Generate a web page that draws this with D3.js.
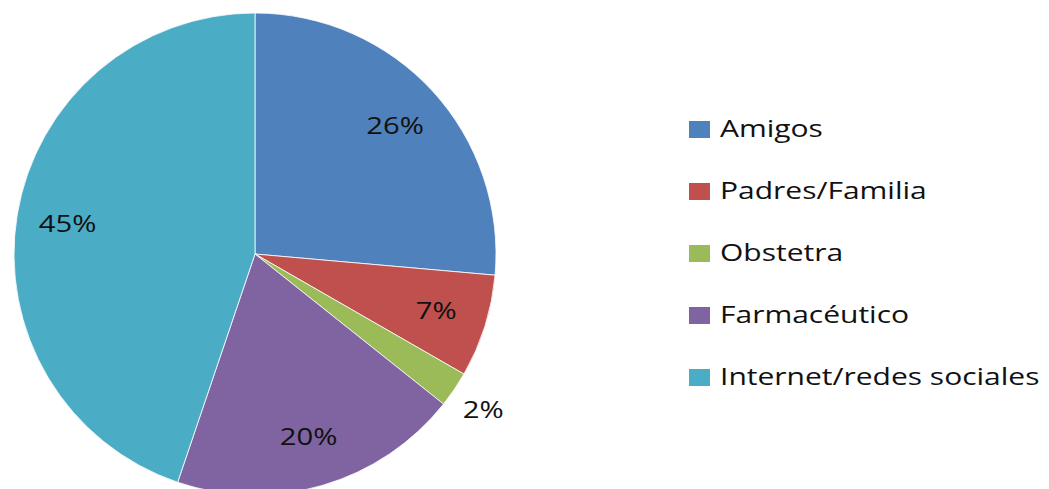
<!DOCTYPE html>
<html>
<head>
<meta charset="utf-8">
<script src="https://cdn.jsdelivr.net/npm/d3@7"></script>
<style>
  body { margin: 0; background: #fff; }
  svg { display: block; }
  text { font-family: "Open Sans", sans-serif; fill: #111; }
</style>
</head>
<body>
<svg width="1049" height="489"></svg>
<script>
// data
var categories = ["Amigos", "Padres/Familia", "Obstetra", "Farmacéutico", "Internet/redes sociales"];
var values = [26.4, 6.9, 2.4, 19.5, 44.8];
var labels = ["26%", "7%", "2%", "20%", "45%"];
var colors = ["#4F81BD", "#C0504D", "#9BBB59", "#8064A2", "#4BACC6"];

var svg = d3.select("svg"),
	cx = 255, cy = 254, radius = 241;

var pie = d3.pie().sort(null).value(d => d);
var arcs = pie(values);

var arc = d3.arc().innerRadius(0).outerRadius(radius);
var labelArc = d3.arc().innerRadius(190).outerRadius(190);
var outerArc = d3.arc().innerRadius(276).outerRadius(276);

var color = d3.scaleOrdinal().domain(categories).range(colors);

var g = svg.append("g")
	.attr("transform", "translate(" + cx + "," + cy + ")");

g.selectAll(".slice")
	.data(arcs)
	.enter().append("path")
	.attr("class", "slice")
	.attr("d", arc)
	.attr("fill", (d, i) => color(categories[i]))
	.attr("stroke", "#fff")
	.attr("stroke-width", 0.8);

// percentage labels, small slice goes outside
g.selectAll(".lbl")
	.data(arcs)
	.enter().append("text")
	.attr("class", "lbl")
	.attr("transform", d => "translate(" + (d.value < 5 ? outerArc : labelArc).centroid(d) + ") scale(1.22,1)")
	.attr("text-anchor", "middle")
	.attr("dy", "0.35em")
	.style("font-size", "24px")
	.text((d, i) => labels[i]);

// legend
var legend = svg.append("g")
	.attr("transform", "translate(689,129)");

var row = legend.selectAll(".row")
	.data(categories)
	.enter().append("g")
	.attr("class", "row")
	.attr("transform", (d, i) => "translate(0," + (i * 62) + ")");

row.append("rect")
	.attr("x", 0)
	.attr("y", -8)
	.attr("width", 21)
	.attr("height", 17)
	.attr("fill", d => color(d));

row.append("text")
	.attr("transform", "translate(31,0) scale(1.25,1)")
	.attr("dy", "0.35em")
	.style("font-size", "24px")
	.text(d => d);
</script>
</body>
</html>
